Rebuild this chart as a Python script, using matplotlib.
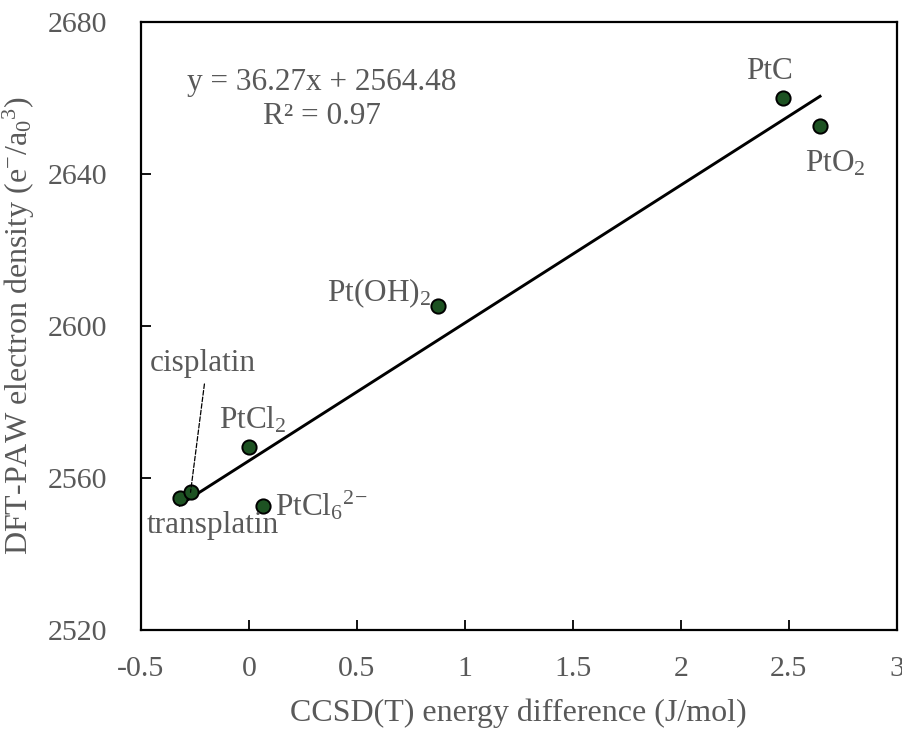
import numpy as np
import matplotlib
matplotlib.use("Agg")
import matplotlib.pyplot as plt

plt.rcParams['font.family'] = ['Liberation Serif', 'DejaVu Serif']
plt.rcParams['mathtext.fontset'] = 'custom'
plt.rcParams['mathtext.rm'] = 'Liberation Serif'
plt.rcParams['mathtext.it'] = 'Liberation Serif:italic'

# data
names = ['transplatin', 'cisplatin', 'PtCl$_2$', 'PtCl$_6$$^{2\\!-}$',
         'Pt(OH)$_2$', 'PtC', 'PtO$_2$']
ccsd = [-0.32, -0.27, 0.0, 0.065, 0.875, 2.475, 2.645]
paw = [2554.7, 2556.2, 2568.2, 2552.6, 2605.3, 2660.0, 2652.6]

slope = 36.27
intercept = 2564.48
r2 = 0.97

# label offsets in points (dx, dy, ha)
offsets = {
    'transplatin': (24, -20, 'center'),
    'cisplatin': (9, 93, 'center'),
    'PtCl$_2$': (3, 19, 'center'),
    'PtCl$_6$$^{2\\!-}$': (9, 0, 'left'),
    'Pt(OH)$_2$': (-5, 9, 'right'),
    'PtC': (-10, 19, 'center'),
    'PtO$_2$': (11, -27, 'center'),
}

gray = '#595959'
fig = plt.figure(figsize=(9.03, 7.29), dpi=100)
ax = fig.add_axes([0.156, 0.136, 0.837, 0.834])

xs = np.array([min(ccsd), max(ccsd)])
ax.plot(xs, slope * xs + intercept, color='black', lw=2.1, zorder=2)
ax.scatter(ccsd, paw, s=105, color='#1d5222', edgecolors='black',
           linewidths=1.4, zorder=3)

for name, x, y in zip(names, ccsd, paw):
    dx, dy, ha = offsets[name]
    ax.annotate(name, (x, y), xytext=(dx, dy), textcoords='offset points',
                ha=ha, va='center', fontsize=22.5, color=gray)

# dashed leader to cisplatin
i = names.index('cisplatin')
ax.annotate('', (ccsd[i], paw[i]), xytext=(10, 78), textcoords='offset points',
            arrowprops=dict(arrowstyle='-', ls='--', color='black', lw=0.9,
                            shrinkA=0, shrinkB=0))

ax.text(0.239, 0.872, f'y = {slope:.2f}x + {intercept:.2f}\nR² = {r2:.2f}',
        transform=ax.transAxes, ha='center', va='center', fontsize=22.5,
        color=gray, linespacing=1.25)

ax.set_xlim(-0.5, 3)
ax.set_ylim(2520, 2680)
ax.set_xticks(np.arange(-0.5, 3.01, 0.5))
ax.set_xticklabels(['-0.5', '0', '0.5', '1', '1.5', '2', '2.5', '3'])
ax.set_yticks([2520, 2560, 2600, 2640, 2680])
ax.tick_params(direction='in', length=7, width=1.3, labelsize=21.5,
               labelcolor=gray)
ax.tick_params(axis='x', pad=19)
ax.tick_params(axis='y', pad=24)
for s in ax.spines.values():
    s.set_linewidth(1.6)
ax.set_xlabel('CCSD(T) energy difference (J/mol)', fontsize=23, color=gray,
              labelpad=12)
ax.set_ylabel('DFT-PAW electron density (e$^{-}$/a$_0$$^3$)', fontsize=23,
              color=gray, labelpad=8)

fig.savefig('out.png', dpi=100)
